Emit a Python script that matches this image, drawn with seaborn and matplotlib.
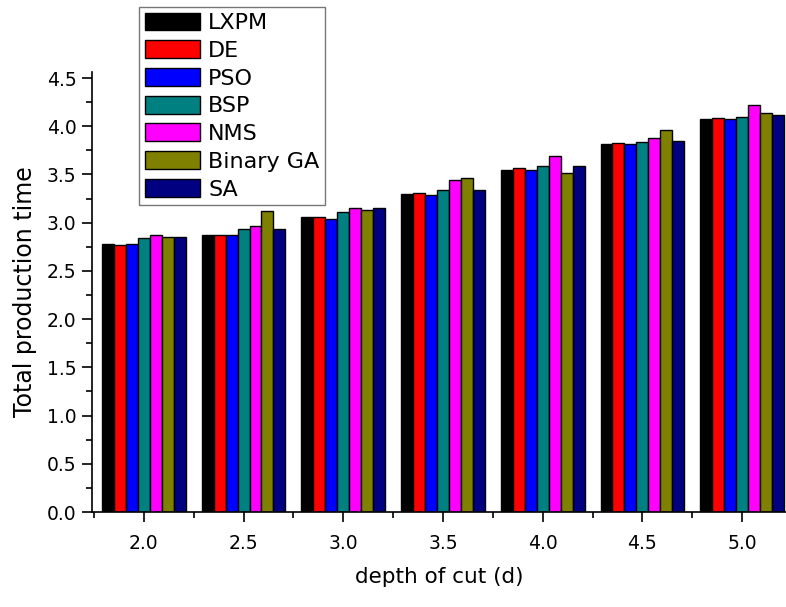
import pandas as pd
import numpy as np
import seaborn as sns
import matplotlib.pyplot as plt
from matplotlib.ticker import MultipleLocator, FormatStrFormatter
from matplotlib.patches import Patch

# depth of cut values and the methods compared
depths = [2.0, 2.5, 3.0, 3.5, 4.0, 4.5, 5.0]
methods = ['LXPM', 'DE', 'PSO', 'BSP', 'NMS', 'Binary GA', 'SA']
colors = ['#000000', '#FF0000', '#0000FF', '#008080', '#FF00FF', '#808000', '#000080']

# total production time read per method, one value per depth
lxpm = [2.78, 2.87, 3.06, 3.30, 3.55, 3.82, 4.08]
de = [2.77, 2.87, 3.06, 3.31, 3.57, 3.83, 4.09]
pso = [2.78, 2.87, 3.04, 3.29, 3.55, 3.82, 4.08]
bsp = [2.84, 2.93, 3.11, 3.34, 3.59, 3.84, 4.10]
nms = [2.87, 2.97, 3.15, 3.44, 3.69, 3.88, 4.22]
binary_ga = [2.85, 3.12, 3.13, 3.46, 3.51, 3.96, 4.14]
sa = [2.85, 2.93, 3.15, 3.34, 3.59, 3.85, 4.12]

series = [lxpm, de, pso, bsp, nms, binary_ga, sa]
rows = []
for m, vals in zip(methods, series):
    for d, v in zip(depths, vals):
        rows.append({'depth': d, 'method': m, 'time': v})
df = pd.DataFrame(rows)

sns.set_style('ticks')
plt.rcParams['font.family'] = ['DejaVu Sans']
plt.rcParams['text.color'] = 'black'
plt.rcParams['axes.labelcolor'] = 'black'

fig = plt.figure(figsize=(7.86, 6.07), dpi=100)
ax = fig.add_axes([0.117, 0.1565, 0.883, 0.7245])

sns.barplot(data=df, x='depth', y='time', hue='method', hue_order=methods,
            palette=colors, native_scale=True, width=0.84, gap=0,
            edgecolor='black', linewidth=1, saturation=1, errorbar=None,
            legend=False, ax=ax)

ax.set_xlim(1.74, 5.22)
ax.set_ylim(0, 4.56)
ax.xaxis.set_major_locator(MultipleLocator(0.5))
ax.xaxis.set_minor_locator(MultipleLocator(0.25))
ax.yaxis.set_major_locator(MultipleLocator(0.5))
ax.yaxis.set_minor_locator(MultipleLocator(0.25))
ax.xaxis.set_major_formatter(FormatStrFormatter('%.1f'))
ax.yaxis.set_major_formatter(FormatStrFormatter('%.1f'))
ax.tick_params(which='major', direction='out', length=7, width=1.2, labelsize=13.5, colors='black')
ax.tick_params(which='minor', direction='out', length=4, width=1.2, colors='black')
ax.tick_params(axis='x', pad=9)
ax.tick_params(axis='y', pad=4)

for s in ['top', 'right']:
    ax.spines[s].set_visible(False)
for s in ['left', 'bottom']:
    ax.spines[s].set_linewidth(1.2)
    ax.spines[s].set_color('black')

ax.set_xlabel('depth of cut (d)', fontsize=15.5, labelpad=10)
ax.set_ylabel('Total production time', fontsize=17, labelpad=7)

handles = [Patch(facecolor=c, edgecolor='black', linewidth=1) for c in colors]
leg = fig.legend(handles, methods, loc='upper left',
                 bbox_to_anchor=(139 / 786, 1 - 7 / 607), bbox_transform=fig.transFigure,
                 fontsize=16, frameon=True, fancybox=False, borderaxespad=0,
                 handlelength=2.5, handleheight=0.86, handletextpad=0.36,
                 labelspacing=0.32, borderpad=0.25)
leg.get_frame().set_edgecolor('#555555')
leg.get_frame().set_linewidth(1)

fig.savefig('out.png', dpi=100)
